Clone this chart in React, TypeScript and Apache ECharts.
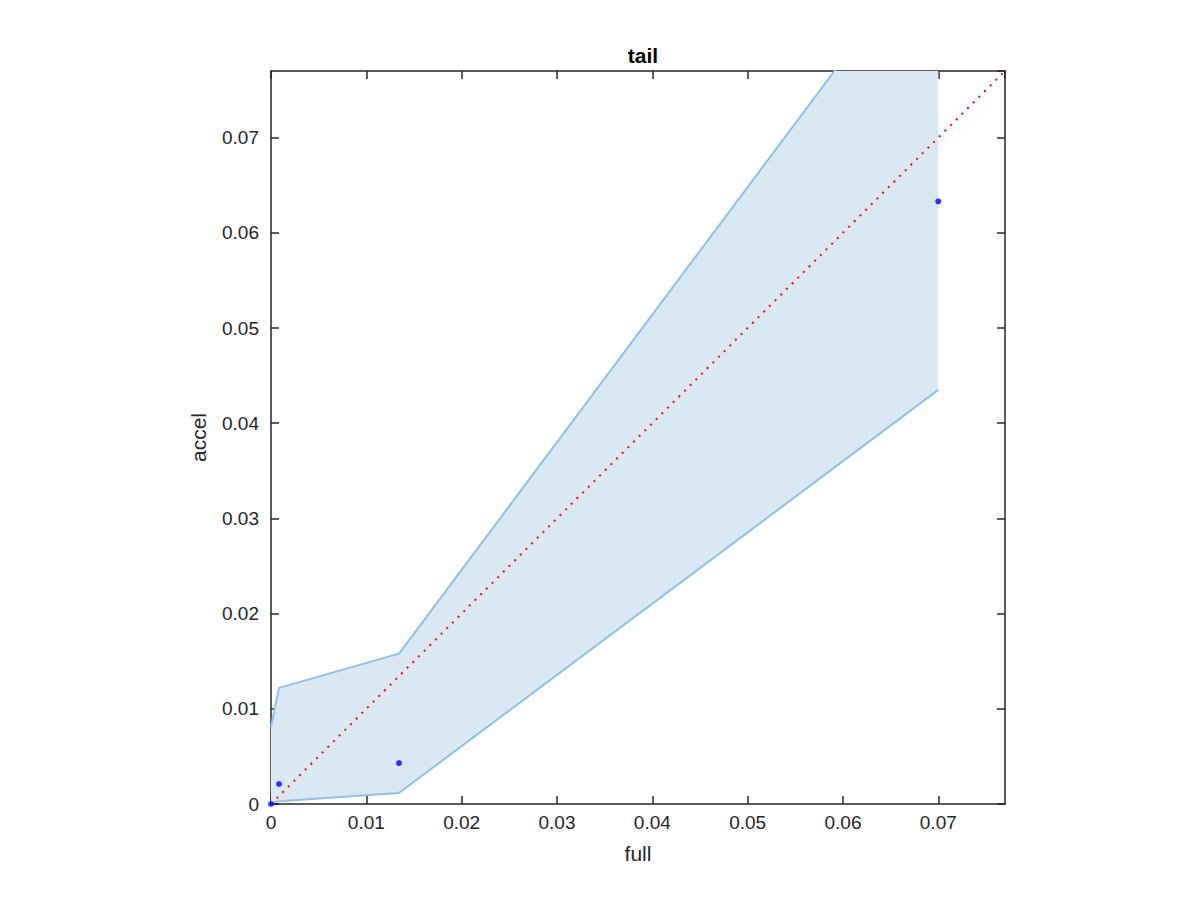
import React, { useEffect, useRef } from "react";
import * as echarts from "echarts";

const ticks = [0, 0.01, 0.02, 0.03, 0.04, 0.05, 0.06, 0.07];
const axisMax = 0.077;
const upperBound: number[][] = [
  [0, 0.0081],
  [0.00084, 0.0122],
  [0.01343, 0.0158],
  [0.07, 0.0916],
];
const lowerBound: number[][] = [
  [0, 0.0001],
  [0.00084, 0.0003],
  [0.01343, 0.00116],
  [0.07, 0.0435],
];
const points: number[][] = [
  [0, 0],
  [0.00084, 0.0021],
  [0.01343, 0.0043],
  [0.07, 0.0633],
];
const diagonal: number[][] = [
  [0, 0],
  [axisMax, axisMax],
];

const FONT = "'Liberation Sans', Arial, sans-serif";
const AXIS_COLOR = "#262626";

export default function App() {
  const ref = useRef<HTMLDivElement>(null);
  useEffect(() => {
    if (!ref.current) return;
    const chart = echarts.init(ref.current, null, { renderer: "svg" });
    const labelFmt = (v: number) => {
      const r = Math.round(v * 100) / 100;
      return ticks.some((t) => Math.abs(t - r) < 1e-9) && Math.abs(v - r) < 1e-9 ? String(r) : "";
    };
    const baseAxis = {
      type: "value",
      min: 0,
      max: axisMax,
      interval: 0.01,
      axisLine: { show: true, onZero: false, lineStyle: { color: AXIS_COLOR, width: 1.5 } },
      axisTick: { show: true, inside: true, length: 8, lineStyle: { color: AXIS_COLOR, width: 1.5 } },
      splitLine: { show: false },
    };
    chart.setOption({
      animation: false,
      backgroundColor: "#ffffff",
      title: {
        text: "tail",
        left: 638,
        top: 40,
        textAlign: "center",
        textStyle: { fontFamily: FONT, fontSize: 21, fontWeight: "bold", color: "#000" },
      },
      grid: { left: 271, top: 71, width: 734, height: 733, containLabel: false },
      xAxis: [
        {
          ...baseAxis,
          position: "bottom",
          name: "full",
          nameLocation: "middle",
          nameGap: 39,
          nameTextStyle: { fontFamily: FONT, fontSize: 21, color: AXIS_COLOR },
          axisLabel: {
            show: true,
            margin: 9,
            fontFamily: FONT,
            fontSize: 19,
            color: AXIS_COLOR,
            formatter: labelFmt,
            showMaxLabel: false,
          },
        },
        {
          ...baseAxis,
          position: "top",
          axisLabel: { show: false },
        },
      ],
      yAxis: [
        {
          ...baseAxis,
          position: "left",
          name: "accel",
          nameLocation: "middle",
          nameGap: 62,
          nameRotate: 90,
          nameTextStyle: { fontFamily: FONT, fontSize: 21, color: AXIS_COLOR },
          axisLabel: {
            show: true,
            margin: 12,
            fontFamily: FONT,
            fontSize: 19,
            color: AXIS_COLOR,
            formatter: labelFmt,
            showMaxLabel: false,
          },
        },
        {
          ...baseAxis,
          position: "right",
          axisLabel: { show: false },
        },
      ],
      series: [
        {
          type: "custom",
          clip: true,
          xAxisIndex: 0,
          yAxisIndex: 0,
          data: [[0, 0]],
          silent: true,
          z: 1,
          renderItem: (_params: any, api: any) => {
            const poly = [...upperBound, ...lowerBound.slice().reverse()].map((p) => api.coord(p));
            return {
              type: "polygon",
              shape: { points: poly },
              style: { fill: "#dae8f4", stroke: "none" },
            };
          },
        },
        {
          type: "line",
          data: upperBound,
          clip: true,
          symbol: "none",
          lineStyle: { color: "#8ec1e4", width: 2 },
          z: 2,
        },
        {
          type: "line",
          data: lowerBound,
          clip: true,
          symbol: "none",
          lineStyle: { color: "#8ec1e4", width: 2 },
          z: 2,
        },
        {
          type: "line",
          data: diagonal,
          clip: true,
          symbol: "none",
          lineStyle: { color: "#ff0000", width: 2, type: [2, 6] },
          z: 3,
        },
        {
          type: "scatter",
          data: points,
          clip: false,
          symbol: "circle",
          symbolSize: 6,
          itemStyle: { color: "#0000ff" },
          z: 4,
        },
      ],
    });
    return () => chart.dispose();
  }, []);
  return (
    <div
      ref={ref}
      style={{ position: "fixed", left: 0, top: 0, width: 1200, height: 900, background: "#fff" }}
    />
  );
}
